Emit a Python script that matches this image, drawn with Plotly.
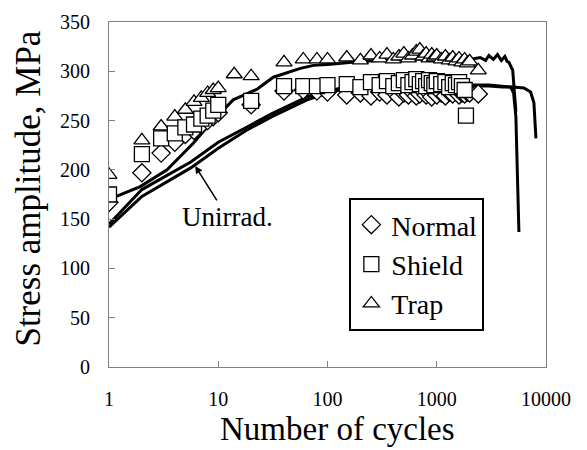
import plotly.graph_objects as go

# ---------------- data ----------------
x_tickvals = [1, 10, 100, 1000, 10000]
x_ticktext = ["1", "10", "100", "1000", "10000"]
y_tickvals = [0, 50, 100, 150, 200, 250, 300, 350]

normal_n = [1, 2, 3, 4, 5, 6, 7, 8, 9, 10, 20, 40, 60, 80, 100,
            150, 200, 250, 300, 350, 400, 450, 500, 550, 600, 650, 700, 750, 800,
            850, 900, 950, 1000, 1100, 1200, 1300, 1400, 1500, 1600, 1700, 1800,
            1900, 2000, 2400]
normal_s = [167, 197, 217, 228, 236, 240, 246, 250, 254, 258, 266, 280, 281, 280, 279,
            276, 278, 275, 279, 276, 280, 274, 278, 276, 279, 275, 277, 280, 276,
            278, 274, 279, 276, 278, 275, 279, 277, 280, 276, 278, 277,
            279, 278, 277]

shield_n = [1, 2, 3, 4, 5, 6, 7, 8, 9, 10, 20, 40, 60, 80, 100,
            150, 200, 250, 300, 350, 400, 450, 500, 550, 600, 650, 700, 750, 800,
            850, 900, 950, 1000, 1100, 1200, 1300, 1400, 1500, 1600, 1700, 1800,
            1850]
shield_s = [175, 216, 232, 237, 243, 246, 252, 255, 260, 266, 270, 285, 285, 285, 286,
            287, 284, 289, 286, 290, 285, 288, 291, 286, 289, 292, 287, 290, 285,
            291, 288, 286, 290, 287, 289, 284, 288, 286, 289, 285, 281,
            255]

trap_n = [1, 2, 3, 4, 5, 6, 7, 8, 9, 10, 14, 20, 40, 60, 80, 100,
          150, 200, 250, 300, 350, 400, 450, 500, 550, 600, 650, 700, 750, 800,
          850, 900, 950, 1000, 1100, 1200, 1300, 1400, 1500, 1600, 1700, 1800,
          1900, 2000, 2400]
trap_s = [195, 230, 244, 254, 261, 269, 273, 278, 281, 283, 297, 295, 309, 312, 312, 312,
          314, 311, 316, 313, 317, 312, 315, 318, 313, 316, 320, 322, 315, 318,
          313, 317, 314, 316, 312, 315, 311, 314, 310, 313, 309, 312,
          308, 310, 301]

# continuous curves (three tests)
curve_a_n = [1, 1.93, 3.4, 5.9, 8.44, 13.7, 22.8, 31.9, 56.4, 74.4, 100, 150, 200,
             300, 500, 700, 1000, 1500, 2000, 2500, 2800, 3000, 3300, 3600, 3900,
             4200, 4400, 4580, 4960, 5050, 5300]
curve_a_s = [170, 183, 200, 227, 247, 271, 282, 294, 303, 306, 307, 309, 310,
             311, 312, 313, 312, 313, 312, 314, 311, 316, 312, 317, 311,
             315, 310, 309, 301, 288, 259]

curve_b_n = [1, 2, 5.6, 10, 18, 31, 65, 100, 150, 200, 300, 500, 800, 1000, 1500,
             2000, 3000, 4000, 4750, 5050, 5300, 5650]
curve_b_s = [145, 180, 208, 228, 243, 257, 274, 280, 284, 285, 285, 286, 285, 286, 285,
             286, 286, 285, 284, 278, 254, 137]

curve_c_n = [1, 2, 5.6, 10, 18, 31, 65, 100, 150, 200, 300, 500, 800, 1000, 1500,
             2000, 3000, 4000, 5000, 6280, 7230, 7750, 8090]
curve_c_s = [142, 173, 202, 222, 240, 254, 271, 278, 283, 284, 285, 285, 286, 285, 286,
             285, 285, 284, 284, 283, 279, 268, 232]

# ---------------- figure ----------------
FONT = "Liberation Serif, Times New Roman, serif"
fig = go.Figure()

for cn, cs in [(curve_a_n, curve_a_s), (curve_b_n, curve_b_s), (curve_c_n, curve_c_s)]:
    fig.add_trace(go.Scatter(x=cn, y=cs, mode="lines",
                             line=dict(color="black", width=3),
                             showlegend=False, hoverinfo="skip"))

marker_line = dict(color="black", width=1.3)
fig.add_trace(go.Scatter(x=normal_n, y=normal_s, mode="markers", name="Normal",
                         legendrank=1,
                         marker=dict(symbol="diamond", size=14, color="white", line=marker_line)))
fig.add_trace(go.Scatter(x=trap_n, y=trap_s, mode="markers", name="Trap",
                         legendrank=3,
                         marker=dict(symbol="triangle-up", size=14, color="white", line=marker_line)))
fig.add_trace(go.Scatter(x=shield_n, y=shield_s, mode="markers", name="Shield",
                         legendrank=2,
                         marker=dict(symbol="square", size=15, color="white", line=marker_line)))

axis_common = dict(showline=True, linecolor="#808080", linewidth=1, mirror=True,
                   ticks="inside", ticklen=6, tickcolor="#808080", showgrid=False,
                   zeroline=False, tickfont=dict(family=FONT, size=20, color="black"))

fig.update_xaxes(type="log", range=[0, 4], tickvals=x_tickvals, ticktext=x_ticktext,
                 ticklabelstandoff=14, **axis_common)
fig.update_yaxes(range=[0, 350], tickvals=y_tickvals, ticklabelstandoff=14, **axis_common)

fig.add_annotation(x=0.789, y=204, xref="x", yref="y", text="Unirrad.",
                   showarrow=True, arrowhead=2, arrowsize=1, arrowwidth=1.5,
                   arrowcolor="black", ax=32, ay=51,
                   font=dict(family=FONT, size=27, color="black"))
fig.add_annotation(x=0.524, y=-0.18, xref="paper", yref="paper", text="Number of cycles",
                   showarrow=False, xanchor="center", yanchor="middle",
                   font=dict(family=FONT, size=33, color="black"))
fig.add_annotation(x=-0.184, y=0.516, xref="paper", yref="paper",
                   text="Stress amplitude, MPa", textangle=-90,
                   showarrow=False, xanchor="center", yanchor="middle",
                   font=dict(family=FONT, size=35, color="black"))

fig.update_layout(
    width=587, height=450,
    margin=dict(l=109, r=41, t=22, b=83),
    paper_bgcolor="white", plot_bgcolor="white",
    font=dict(family=FONT, color="black"),
    legend=dict(x=0.55, y=0.49, xanchor="left", yanchor="top",
                bgcolor="white", bordercolor="black", borderwidth=2,
                font=dict(family=FONT, size=28, color="black")),
)

fig.write_html("out.html", config={"displayModeBar": False},
               post_script="document.body.style.margin='0';document.body.style.padding='0';")
